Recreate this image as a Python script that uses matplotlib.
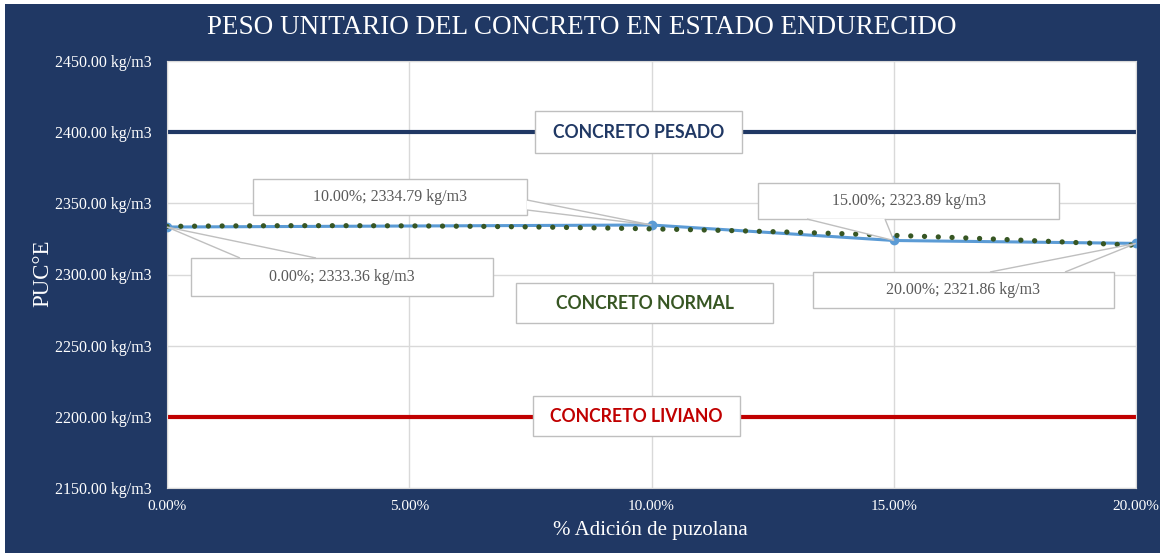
import numpy as np
import matplotlib
matplotlib.use("Agg")
import matplotlib.pyplot as plt
from matplotlib.patches import Rectangle, Polygon
from matplotlib.ticker import FuncFormatter, MultipleLocator

# ---- data ----
adicion = [0.0, 10.0, 15.0, 20.0]             # % puzolana
puc = [2333.36, 2334.79, 2323.89, 2321.86]    # kg/m3
ref_pesado = 2400.0
ref_liviano = 2200.0
point_labels = ["0.00%; 2333.36 kg/m3", "10.00%; 2334.79 kg/m3",
                "15.00%; 2323.89 kg/m3", "20.00%; 2321.86 kg/m3"]
title = "PESO UNITARIO DEL CONCRETO EN ESTADO ENDURECIDO"
xlabel = "% Adición de puzolana"
ylabel = "PUC°E"

W, H = 1164, 558
NAVY = "#203864"
SERIF = ["Liberation Serif", "DejaVu Serif"]

fig = plt.figure(figsize=(W / 100, H / 100), dpi=100, facecolor="white")
bg = Rectangle((5 / W, 1 - 553 / H), (1160 - 5) / W, (553 - 4) / H,
               transform=fig.transFigure, facecolor=NAVY,
               edgecolor="none", zorder=-10)
fig.add_artist(bg)

L, R, T, B = 167, 1136, 61, 488
ax = fig.add_axes([L / W, 1 - B / H, (R - L) / W, (B - T) / H])
ax.set_zorder(5)
ax.set_facecolor("white")
ax.set_xlim(0, 20)
ax.set_ylim(2150, 2450)
ax.xaxis.set_major_locator(MultipleLocator(5))
ax.yaxis.set_major_locator(MultipleLocator(50))
ax.xaxis.set_major_formatter(FuncFormatter(lambda v, p: f"{v:.2f}%"))
ax.yaxis.set_major_formatter(FuncFormatter(lambda v, p: f"{v:.2f} kg/m3"))
ax.grid(True, color="#D9D9D9", linewidth=1.0, zorder=0)
ax.set_axisbelow(True)
for s in ax.spines.values():
    s.set_color("#D9D9D9")
ax.tick_params(length=0, colors="white", labelsize=11)
ax.tick_params(axis="y", labelsize=11.5, pad=11)
ax.tick_params(axis="x", pad=9)
for lab in ax.get_xticklabels() + ax.get_yticklabels():
    lab.set_family(SERIF)

# reference lines
ax.axhline(ref_pesado, color="#203864", linewidth=3, zorder=2)
ax.axhline(ref_liviano, color="#C00000", linewidth=3, zorder=2)

# series
ax.plot(adicion, puc, color="#5B9BD5", linewidth=2.2, marker="o",
        markersize=6, zorder=3)
coef = np.polyfit(adicion, puc, 2)
xt = np.linspace(0, 20, 200)
ax.plot(xt, np.polyval(coef, xt), color="#375623", linewidth=3.8,
        linestyle=(0, (0.01, 2.6)), dash_capstyle="round", zorder=4)

fig.text(582 / W, 1 - 28 / H, title, color="white", family=SERIF,
         fontsize=19.5, ha="center", va="center")
fig.text(650 / W, 1 - 530 / H, xlabel, color="white", family=SERIF,
         fontsize=15, ha="center", va="center")
fig.text(43 / W, 1 - 273 / H, ylabel, color="white", family=SERIF,
         fontsize=16.5, ha="center", va="center", rotation=90)

def frac(px, py):
    return ((px - L) / (R - L), (B - py) / (B - T))

def box(x0, x1, y0, y1, z=6):
    a = frac(x0, y1)
    b = frac(x1, y0)
    ax.add_patch(Rectangle(a, b[0] - a[0], b[1] - a[1], transform=ax.transAxes,
                           facecolor="white", edgecolor="#BFBFBF",
                           linewidth=1.0, zorder=z))
    return ((a[0] + b[0]) / 2, (a[1] + b[1]) / 2)

fig.canvas.draw()
inv = ax.transAxes.inverted()

label_boxes = [(191, 493, 258, 296), (253, 527, 179, 215),
               (758, 1059, 183, 219), (813, 1114, 272, 308)]
wedges = [((240, 258), (316, 258)), ((527, 200), (527, 210)),
          ((807, 219), (885, 219)), ((990, 272), (1065, 272))]
for i in range(4):
    c = box(*label_boxes[i])
    tip = inv.transform(ax.transData.transform((adicion[i], puc[i])))
    p1 = frac(*wedges[i][0])
    p2 = frac(*wedges[i][1])
    ax.add_patch(Polygon([p1, tip, p2], closed=False, transform=ax.transAxes,
                         facecolor="white", edgecolor="#BFBFBF",
                         linewidth=1.0, zorder=6.5, clip_on=False))
    ax.text(c[0], c[1], point_labels[i], transform=ax.transAxes,
            ha="center", va="center", family=SERIF, fontsize=11.5,
            color="#595959", zorder=7)

named = [("CONCRETO PESADO", (535, 742, 111, 153), "#203864"),
         ("CONCRETO NORMAL", (516, 773, 283, 323), "#375623"),
         ("CONCRETO LIVIANO", (533, 740, 396, 436), "#C00000")]
for txt, bb, col in named:
    c = box(*bb)
    ax.text(c[0], c[1], txt, transform=ax.transAxes, ha="center",
            va="center", family=["Lato", "DejaVu Sans"], fontweight="bold",
            fontsize=12.7, color=col, zorder=7)

fig.savefig("out.png", dpi=100, facecolor="white")
